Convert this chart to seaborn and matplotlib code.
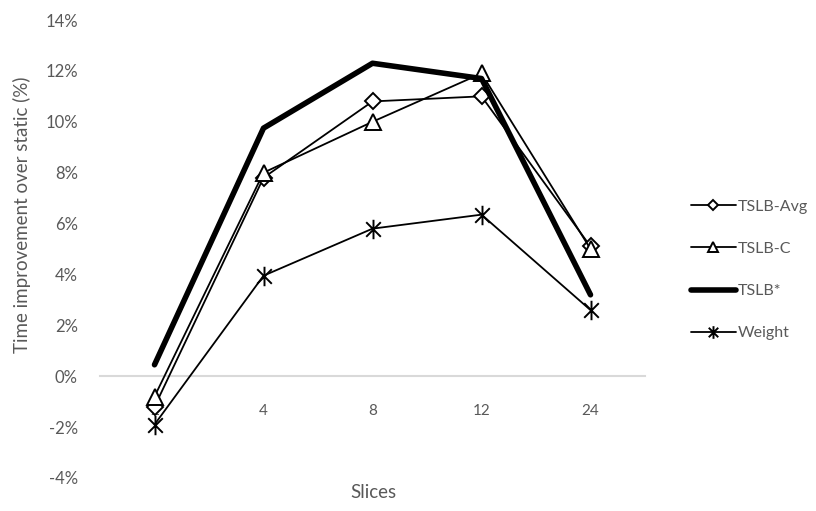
import matplotlib
matplotlib.use("Agg")
import matplotlib.pyplot as plt
import seaborn as sns
import pandas as pd
import numpy as np
from matplotlib.path import Path

categories = ["2", "4", "8", "12", "24"]
tslb_avg = [-1.2, 7.8, 10.8, 11.0, 5.1]
tslb_c = [-0.8, 8.0, 10.0, 11.9, 5.0]
tslb_star = [0.45, 9.75, 12.3, 11.7, 3.2]
weight = [-1.9, 3.95, 5.8, 6.35, 2.6]
series_names = ["TSLB-Avg", "TSLB-C", "TSLB*", "Weight"]
yticks = [-4, -2, 0, 2, 4, 6, 8, 10, 12, 14]

sns.set_theme(style="white")
plt.rcParams["font.family"] = ["Lato", "DejaVu Sans"]
gray = "#595959"

star = Path([(0, -1), (0, 1), (-0.75, -0.75), (0.75, 0.75), (-0.75, 0.75), (0.75, -0.75)],
            [Path.MOVETO, Path.LINETO, Path.MOVETO, Path.LINETO, Path.MOVETO, Path.LINETO])

pos = np.arange(len(categories))
frames = []
for name, vals in zip(series_names, [tslb_avg, tslb_c, tslb_star, weight]):
    frames.append(pd.DataFrame({"x": pos, "y": vals, "series": name}))
df = pd.concat(frames)

fig = plt.figure(figsize=(8.16, 5.11), dpi=100)
ax = fig.add_axes([100 / 816, 1 - 478 / 511, 545 / 816, 458 / 511])

styles = {
    "TSLB-Avg": dict(marker="D", markersize=8, lw=1.3, mfc="white", mec="black", mew=1.4),
    "TSLB-C": dict(marker="^", markersize=11, lw=1.3, mfc="white", mec="black", mew=1.4),
    "TSLB*": dict(marker=None, lw=4, solid_capstyle="round"),
    "Weight": dict(marker=star, markersize=14, lw=1.3, mec="black", mew=1.4),
}
for name in series_names:
    sub = df[df["series"] == name]
    sns.lineplot(data=sub, x="x", y="y", ax=ax, color="black", label=name,
                 sort=False, zorder=3, **styles[name])

ax.set_xlim(-0.5, 4.5)
ax.set_ylim(-4, 14)
ax.set_yticks(yticks)
ax.set_yticklabels([f"{t}%" for t in yticks], color=gray, fontsize=12)
ax.set_xticks(pos)
ax.set_xticklabels(categories, color=gray, fontsize=12)
for s in ["top", "right", "left"]:
    ax.spines[s].set_visible(False)
ax.spines["bottom"].set_position(("data", 0))
ax.spines["bottom"].set_color("#d9d9d9")
ax.spines["bottom"].set_linewidth(1.5)
ax.tick_params(axis="y", length=0, pad=16, labelcolor=gray)
ax.tick_params(axis="x", length=0, pad=20, labelcolor=gray)
ax.set_xlabel("")
ax.set_ylabel("")
ax.grid(False)

fig.text(373 / 816, 1 - 492 / 511, "Slices", ha="center", va="center", color=gray, fontsize=13.5)
fig.text(22 / 816, 1 - 215 / 511, "Time improvement over static (%)", ha="center", va="center",
         rotation=90, color=gray, fontsize=13.5)

handles, labels = ax.get_legend_handles_labels()
ax.get_legend().remove()
fig.legend(handles, labels, loc="center left", bbox_to_anchor=(683 / 816, 1 - 270 / 511),
           frameon=False, fontsize=11.5, handlelength=2.8, handletextpad=0.15,
           labelspacing=1.75, borderpad=0, labelcolor=gray, markerscale=0.65)

fig.savefig("out.png", dpi=100)
